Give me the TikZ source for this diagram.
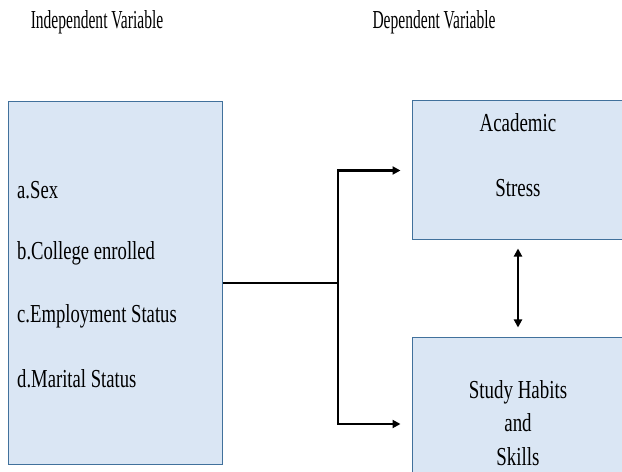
\documentclass[tikz,border=0pt]{standalone}
\usepackage{fontspec}
\setmainfont{Liberation Serif}
\usetikzlibrary{arrows.meta}
\definecolor{boxfill}{HTML}{DAE6F4}
\definecolor{boxline}{HTML}{41719C}
\newcommand{\narrowtext}[2]{\scalebox{#1}[1]{#2}}
\tikzset{
  varbox/.style={draw=boxline, fill=boxfill, line width=1bp, inner sep=0pt},
  vartext/.style={inner sep=0pt, font=\fontsize{26}{30}\selectfont},
  link/.style={line width=2.8bp, -{Triangle[length=8bp,width=8bp]}}
}

\begin{document}
\begin{tikzpicture}[x=1bp, y=-1bp]
\useasboundingbox (0,0) rectangle (622,472);

\node (Ihead) [vartext] at (97,22) {\narrowtext{0.6}{Independent Variable}};
\node (Dhead) [vartext] at (434,22) {\narrowtext{0.6}{Dependent Variable}};

\node (Indep) [varbox, minimum width=213bp, minimum height=362bp] at (115.5,283) {};
\node (Acad) [varbox, minimum width=212bp, minimum height=139bp] at (518,170.5) {};
\node (Study) [varbox, minimum width=212bp, minimum height=172bp] at (518,424) {};

\node (sex) [vartext, anchor=west] at (17,190) {\narrowtext{0.72}{a.Sex}};
\node (college) [vartext, anchor=west] at (17,253) {\narrowtext{0.72}{b.College enrolled}};
\node (employ) [vartext, anchor=west] at (17,316) {\narrowtext{0.72}{c.Employment Status}};
\node (marital) [vartext, anchor=west] at (17,379) {\narrowtext{0.72}{d.Marital Status}};

\node (acad-1) [vartext] at (518,123) {\narrowtext{0.73}{Academic}};
\node (acad-2) [vartext] at (518,188) {\narrowtext{0.73}{Stress}};
\node (study-1) [vartext] at (518,392) {\narrowtext{0.73}{Study Habits}};
\node (study-2) [vartext] at (518,423) {\narrowtext{0.73}{and}};
\node (study-3) [vartext] at (518,457) {\narrowtext{0.73}{Skills}};

\coordinate (split) at (338,283);

\draw[line width=2.8bp] (Indep.east) -- (split);
\draw[link, shorten >=11bp] (split) |- (Acad.west);
\draw[link, shorten >=11bp] (split) |- (Study.west);
\draw[link, {Triangle[length=8bp,width=8bp]}-{Triangle[length=8bp,width=8bp]},
  shorten <=8bp, shorten >=10bp] (Acad.south) -- (Study.north);
\end{tikzpicture}
\end{document}
